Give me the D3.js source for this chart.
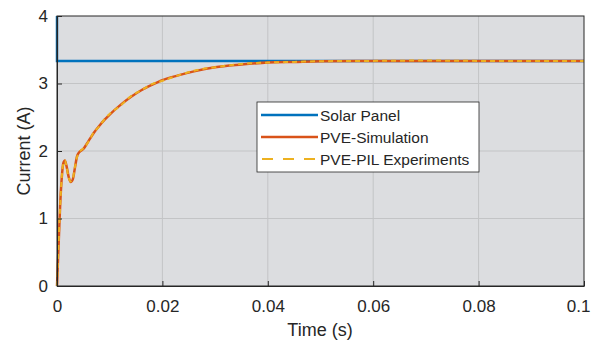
<!DOCTYPE html>
<html><head><meta charset="utf-8">
<script src="https://cdn.jsdelivr.net/npm/d3@7"></script>
<style>body{margin:0;background:#fff}svg{display:block}text{font-family:"Liberation Sans",Arial,sans-serif;fill:#262626}</style>
</head><body><svg id="c" width="591" height="341"></svg>
<script>
const xTicks=[0,0.02,0.04,0.06,0.08,0.1];
const xTickLabels=["0","0.02","0.04","0.06","0.08","0.1"];
const yTicks=[0,1,2,3,4];
const seriesNames=["Solar Panel","PVE-Simulation","PVE-PIL Experiments"];
const colors=["#0072BD","#D95319","#EDB120"];
const solarT=[0,0,0.1];
const solarI=[4,3.333,3.333];
const simT=[0,0.0003,0.0006,0.0009,0.0012,0.0015,0.0018,0.0022,0.0026,0.003,0.0034,0.0038,0.0042,0.005,0.006,0.007,0.008,0.009,0.01,0.012,0.014,0.016,0.018,0.02,0.023,0.026,0.03,0.035,0.04,0.045,0.05,0.06,0.07,0.08,0.09,0.1];
const simI=[0,0.6,1.2,1.6,1.82,1.86,1.78,1.62,1.54,1.58,1.75,1.92,1.98,2.03,2.15,2.27,2.37,2.46,2.54,2.68,2.8,2.9,2.98,3.05,3.12,3.18,3.24,3.28,3.31,3.32,3.33,3.335,3.335,3.335,3.335,3.335];
const expT=simT;
const expI=[0,0.62,1.18,1.61,1.81,1.86,1.77,1.61,1.55,1.59,1.76,1.91,1.98,2.04,2.14,2.28,2.36,2.47,2.55,2.67,2.81,2.9,2.99,3.04,3.12,3.19,3.24,3.29,3.31,3.32,3.33,3.335,3.34,3.335,3.335,3.335];

const svg=d3.select("#c");
const L=57,R=584,T=16,B=286;
const x=d3.scaleLinear().domain([0,0.1]).range([L,R]);
const y=d3.scaleLinear().domain([0,4]).range([B,T]);
svg.append("rect").attr("x",L).attr("y",T).attr("width",R-L).attr("height",B-T).attr("fill","#dcdde0");
const g=svg.append("g");
xTicks.forEach(t=>{ if(t>0&&t<0.1) g.append("line").attr("x1",x(t)).attr("x2",x(t)).attr("y1",T).attr("y2",B).attr("stroke","#c3c4c6").attr("stroke-width",1);});
yTicks.forEach(t=>{ if(t>0&&t<4) g.append("line").attr("x1",L).attr("x2",R).attr("y1",y(t)).attr("y2",y(t)).attr("stroke","#c3c4c6").attr("stroke-width",1);});
const line=d3.line().x(d=>x(d[0])).y(d=>y(d[1]));
svg.append("clipPath").attr("id","cp").append("rect").attr("x",L-2).attr("y",T-2).attr("width",R-L+4).attr("height",B-T+4);
const lines=svg.append("g").attr("clip-path","url(#cp)");
lines.append("path").datum(solarT.map((t,i)=>[t,solarI[i]])).attr("d",line).attr("fill","none").attr("stroke",colors[0]).attr("stroke-width",2.5);
lines.append("path").datum(simT.map((t,i)=>[t,simI[i]])).attr("d",line.curve(d3.curveMonotoneX)).attr("fill","none").attr("stroke",colors[1]).attr("stroke-width",2.5);
lines.append("path").datum(expT.map((t,i)=>[t,expI[i]])).attr("d",line.curve(d3.curveMonotoneX)).attr("fill","none").attr("stroke",colors[2]).attr("stroke-width",2).attr("stroke-dasharray","5,4");
// axes
const xa=svg.append("g").attr("transform",`translate(0,${B})`).call(d3.axisBottom(x).tickValues(xTicks).tickFormat((d,i)=>xTickLabels[i]).tickSizeInner(-5).tickSizeOuter(0).tickPadding(14));
const ya=svg.append("g").attr("transform",`translate(${L},0)`).call(d3.axisLeft(y).tickValues(yTicks).tickFormat(d3.format("d")).tickSizeInner(-5).tickSizeOuter(0).tickPadding(9));
[xa,ya].forEach(a=>{a.selectAll("path,line").attr("stroke","#262626");a.selectAll("text").attr("font-size",17).attr("fill","#262626").attr("font-family","Liberation Sans, Arial, sans-serif");});
xa.selectAll(".tick text").filter(d=>d===0.1).attr("text-anchor","end").attr("x",6);
svg.append("rect").attr("x",L).attr("y",T).attr("width",R-L).attr("height",B-T).attr("fill","none").attr("stroke","#262626").attr("stroke-width",1);
svg.append("text").attr("x",(L+R)/2-0.5).attr("y",336).attr("text-anchor","middle").attr("font-size",18).text("Time (s)");
svg.append("text").attr("transform",`translate(30,${(T+B)/2}) rotate(-90)`).attr("text-anchor","middle").attr("font-size",18).text("Current (A)");
// legend
const lg=svg.append("g");
lg.append("rect").attr("x",257).attr("y",102).attr("width",222).attr("height",70).attr("fill","#fff").attr("stroke","#262626").attr("stroke-width",0.8);
seriesNames.forEach((n,i)=>{
  const yy=115+i*22;
  const ln=lg.append("line").attr("x1",261).attr("x2",318).attr("y1",yy).attr("y2",yy).attr("stroke",colors[i]).attr("stroke-width",i==2?2:2.5);
  if(i==2) ln.attr("stroke-dasharray","11,10").attr("x1",262);
  lg.append("text").attr("x",320).attr("y",yy+6).attr("font-size",15.5).text(n);
});
</script></body></html>
